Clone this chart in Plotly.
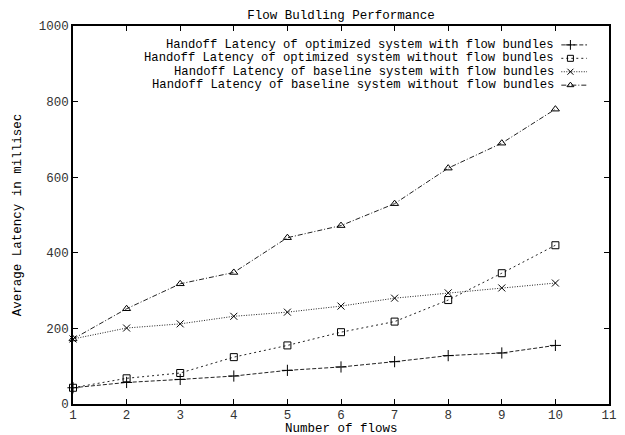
import plotly.graph_objects as go

flows = [1, 2, 3, 4, 5, 6, 7, 8, 9, 10]
opt_with = [43, 57, 65, 74, 89, 98, 112, 128, 135, 155]
opt_without = [43, 68, 82, 124, 155, 190, 218, 275, 346, 420]
base_with = [172, 201, 212, 232, 243, 259, 280, 294, 307, 320]
base_without = [172, 252, 318, 348, 440, 472, 530, 624, 690, 780]

names = [
    "Handoff Latency of optimized system with flow bundles",
    "Handoff Latency of optimized system without flow bundles",
    "Handoff Latency of baseline system with flow bundles",
    "Handoff Latency of baseline system without flow bundles",
]
series = [opt_with, opt_without, base_with, base_without]
symbols = ["cross-thin-open", "square-open", "x-thin-open", "triangle-up-open"]
sizes = [8, 7, 7, 7]
dashes = ["4px,2px", "2px,3px", "1px,1.5px", "5px,2px,1px,2px"]

FONT = "Liberation Mono, Courier New, monospace"
FS = 12.5
KFS = 12.2
fig = go.Figure()

for name, ys, sym, sz, dash in zip(names, series, symbols, sizes, dashes):
    fig.add_trace(go.Scatter(
        x=flows, y=ys, mode="lines+markers", name=name, showlegend=False,
        line=dict(color="#222", width=1, dash=dash),
        marker=dict(symbol=sym, size=sz, color="#000", line=dict(color="#000", width=1)),
        cliponaxis=False,
    ))

# gnuplot-style key: text right-aligned, sample to the right
key_rows = [0.950, 0.9145, 0.879, 0.8435]
for name, row, sym, sz, dash in zip(names, key_rows, symbols, sizes, dashes):
    fig.add_annotation(
        x=0.899, y=row, xref="paper", yref="paper", text=name, showarrow=False,
        xanchor="right", yanchor="middle", height=12, borderpad=0,
        font=dict(family=FONT, size=KFS, color="#000"),
    )
    fig.add_trace(go.Scatter(
        x=[0.911, 0.959], y=[row, row], xaxis="x2", yaxis="y2", mode="lines",
        line=dict(color="#222", width=1, dash=dash), showlegend=False, hoverinfo="skip",
    ))
    fig.add_trace(go.Scatter(
        x=[0.928], y=[row], xaxis="x2", yaxis="y2", mode="markers",
        marker=dict(symbol=sym, size=sz - 1, color="#000", line=dict(color="#000", width=1)),
        showlegend=False, hoverinfo="skip", cliponaxis=False,
    ))

# x-axis title as a compact annotation (tight under the tick labels, like gnuplot)
fig.add_annotation(
    x=0.5, y=-0.0655, xref="paper", yref="paper", text="Number of flows", showarrow=False,
    xanchor="center", yanchor="middle", height=11, borderpad=0,
    font=dict(family=FONT, size=FS, color="#000"),
)

axis_common = dict(
    showgrid=False, zeroline=False, showline=True, linecolor="#000", linewidth=1.5,
    mirror="ticks", ticks="inside", ticklen=5, tickcolor="#000", tickwidth=1,
    tickfont=dict(family=FONT, size=FS, color="#333"), automargin=False,
)

fig.update_layout(
    width=625, height=435,
    margin=dict(l=73, r=16, t=26, b=31),
    paper_bgcolor="white", plot_bgcolor="white",
    title=dict(text="Flow Buldling Performance", x=0.5, xref="paper", xanchor="center",
               y=1 - 15 / 435, yref="container", yanchor="middle",
               font=dict(family=FONT, size=FS, color="#000")),
    xaxis=dict(range=[1, 11], tickmode="array", tickvals=list(range(1, 12)),
               ticklabelstandoff=-2, **axis_common),
    yaxis=dict(range=[0, 1000], tickmode="array", tickvals=[0, 200, 400, 600, 800, 1000],
               title=dict(text="Average Latency in millisec", standoff=14,
                          font=dict(family=FONT, size=FS, color="#000")),
               **axis_common),
    xaxis2=dict(range=[0, 1], overlaying="x", visible=False, fixedrange=True),
    yaxis2=dict(range=[0, 1], overlaying="y", visible=False, fixedrange=True),
    showlegend=False,
)

fig.write_html("out.html")
